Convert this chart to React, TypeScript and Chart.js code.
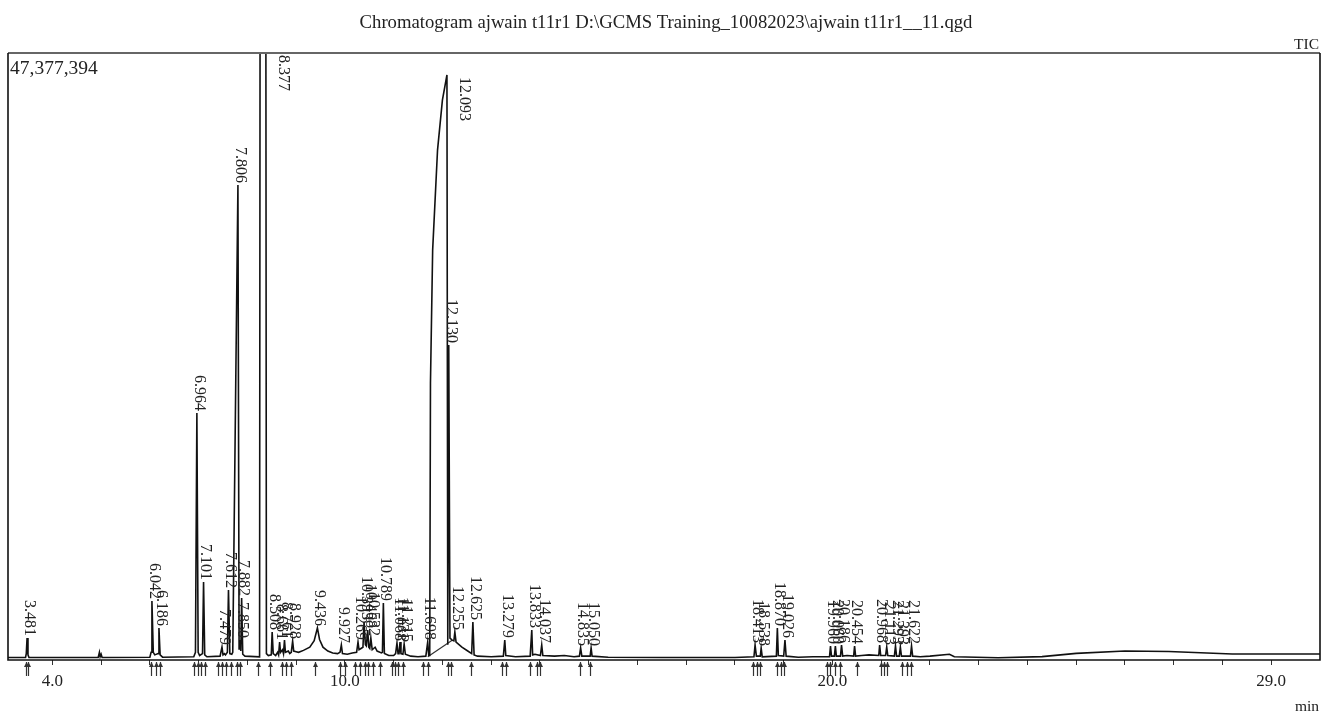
import React, { useEffect, useRef } from "react";
import { Chart, registerables } from "chart.js";

Chart.register(...registerables);

// ---------- data ----------
const chartTitle = "Chromatogram ajwain t11r1 D:\\GCMS Training_10082023\\ajwain t11r1__11.qgd";
const channelName = "TIC";
const xUnit = "min";
const xMin = 3.09;
const xMax = 30.0;
const yMax = 47377394;
const xTickLabels = [4.0, 10.0, 20.0, 29.0];

// trace points [retention time (min), intensity] by region
const traceA: [number, number][] = [
  [3.09, 0.2e6], [3.45, 0.2e6], [3.465, 0.5e6], [3.481, 1.72e6], [3.5, 0.4e6], [3.52, 0.2e6],
  [4.94, 0.2e6], [4.965, 0.6e6], [4.98, 0.25e6], [5.0, 0.45e6], [5.02, 0.2e6],
  [6.0, 0.22e6], [6.025, 0.6e6], [6.042, 4.6e6], [6.07, 0.6e6], [6.1, 0.4e6], [6.17, 0.5e6],
  [6.186, 2.5e6], [6.21, 0.4e6], [6.26, 0.22e6],
  [6.9, 0.25e6], [6.935, 0.6e6], [6.964, 19.28e6], [6.99, 0.6e6], [7.02, 0.35e6],
];
const traceB: [number, number][] = [
  [7.08, 0.5e6], [7.101, 6.09e6], [7.125, 0.4e6], [7.17, 0.25e6],
  [7.44, 0.3e6], [7.479, 1.01e6], [7.5, 0.4e6], [7.53, 0.5e6], [7.55, 0.4e6], [7.59, 0.6e6],
  [7.612, 5.46e6], [7.64, 0.5e6], [7.68, 0.45e6], [7.7, 0.6e6], [7.806, 37.08e6], [7.83, 0.8e6],
  [7.85, 1.56e6], [7.865, 0.7e6], [7.882, 4.84e6], [7.905, 0.45e6], [7.95, 0.3e6],
  [8.25, 0.25e6], [8.262, 60e6], [8.377, 60e6], [8.39, 0.5e6], [8.43, 0.35e6], [8.49, 0.4e6],
  [8.508, 2.19e6], [8.53, 0.5e6], [8.58, 0.35e6], [8.62, 0.6e6], [8.64, 0.4e6], [8.661, 1.4e6],
  [8.68, 0.6e6], [8.72, 0.8e6], [8.74, 0.5e6], [8.761, 1.56e6], [8.78, 0.6e6], [8.84, 0.7e6],
  [8.87, 0.5e6], [8.9, 0.6e6], [8.928, 1.48e6], [8.95, 0.7e6], [9.0, 0.65e6],
];
const traceC: [number, number][] = [
  [9.05, 0.6e6], [9.15, 0.75e6], [9.28, 1.0e6], [9.37, 1.5e6], [9.436, 2.5e6], [9.48, 1.6e6],
  [9.55, 1.0e6], [9.65, 0.7e6], [9.75, 0.55e6], [9.85, 0.5e6], [9.9, 0.6e6], [9.927, 1.17e6],
  [9.95, 0.5e6], [10.05, 0.45e6], [10.15, 0.55e6], [10.24, 0.6e6], [10.269, 1.4e6], [10.29, 0.8e6],
  [10.33, 0.9e6], [10.37, 1.0e6], [10.393, 2.97e6], [10.42, 1.2e6], [10.44, 1.1e6], [10.468, 2.34e6],
  [10.49, 1.0e6], [10.51, 0.9e6], [10.532, 1.72e6], [10.56, 0.8e6], [10.62, 1.0e6], [10.66, 0.7e6],
  [10.75, 0.55e6], [10.77, 0.6e6], [10.789, 4.45e6], [10.81, 0.5e6], [10.9, 0.35e6], [11.0, 0.35e6],
  [11.04, 0.5e6], [11.068, 1.33e6], [11.09, 0.5e6], [11.11, 0.5e6], [11.131, 1.4e6], [11.15, 0.5e6],
  [11.19, 0.45e6], [11.215, 1.25e6], [11.24, 0.45e6], [11.35, 0.3e6], [11.5, 0.25e6], [11.66, 0.3e6],
  [11.698, 1.4e6], [11.72, 0.35e6], [11.74, 0.35e6], [11.755, 21.6e6], [11.8, 32.0e6],
  [11.9, 39.8e6], [12.0, 43.7e6],
];
const traceD: [number, number][] = [
  [12.093, 45.66e6], [12.11, 1.2e6], [12.13, 24.59e6], [12.155, 1.7e6], [12.2, 1.55e6],
  [12.235, 1.5e6], [12.255, 2.19e6], [12.28, 1.4e6], [12.4, 1.0e6], [12.52, 0.7e6], [12.6, 0.5e6],
  [12.625, 2.97e6], [12.65, 0.4e6], [12.72, 0.3e6], [13.0, 0.25e6], [13.25, 0.3e6], [13.279, 1.56e6],
  [13.3, 0.35e6], [13.5, 0.25e6], [13.8, 0.3e6], [13.833, 2.34e6], [13.85, 0.4e6], [13.9, 0.45e6],
  [14.01, 0.35e6], [14.037, 1.17e6], [14.06, 0.35e6], [14.3, 0.3e6], [14.5, 0.35e6], [14.7, 0.25e6],
  [14.81, 0.3e6], [14.835, 0.94e6], [14.86, 0.3e6], [15.03, 0.3e6], [15.05, 0.94e6], [15.07, 0.3e6],
  [15.4, 0.22e6],
];
const traceE: [number, number][] = [
  [16.5, 0.2e6], [18.0, 0.2e6], [18.39, 0.25e6], [18.413, 1.17e6], [18.44, 0.3e6], [18.52, 0.3e6],
  [18.538, 0.94e6], [18.56, 0.25e6], [18.85, 0.3e6], [18.87, 2.5e6], [18.89, 0.35e6], [19.0, 0.3e6],
  [19.026, 1.56e6], [19.05, 0.3e6], [19.3, 0.22e6], [19.6, 0.25e6], [19.94, 0.25e6], [19.96, 1.09e6],
  [19.98, 0.3e6], [20.04, 0.3e6], [20.06, 1.09e6], [20.08, 0.3e6], [20.165, 0.3e6], [20.186, 1.17e6],
  [20.21, 0.3e6], [20.3, 0.35e6], [20.435, 0.3e6], [20.454, 1.09e6], [20.475, 0.3e6], [20.6, 0.35e6],
  [20.75, 0.4e6], [20.95, 0.35e6], [20.968, 1.17e6], [20.99, 0.35e6], [21.09, 0.35e6], [21.113, 1.01e6],
  [21.135, 0.35e6], [21.27, 0.3e6], [21.293, 1.09e6], [21.315, 0.3e6], [21.37, 0.3e6], [21.393, 1.01e6],
  [21.415, 0.3e6], [21.6, 0.3e6], [21.622, 1.09e6], [21.645, 0.3e6], [21.8, 0.25e6], [22.0, 0.3e6],
  [22.4, 0.45e6], [22.5, 0.25e6], [23.4, 0.18e6], [24.3, 0.26e6], [25.0, 0.52e6], [26.0, 0.7e6],
  [26.9, 0.66e6], [28.2, 0.47e6], [30.0, 0.47e6],
];
// integration drift line under the main peak
const driftLine: [number, number][] = [[11.7, 0.25e6], [12.2, 1.55e6]];

// labelled peak retention times
const peakTimes = [
  3.481, 6.042, 6.186, 6.964, 7.101, 7.479, 7.612, 7.806, 7.85, 7.882, 8.377, 8.508, 8.661, 8.761,
  8.928, 9.436, 9.927, 10.269, 10.393, 10.468, 10.532, 10.789, 11.068, 11.131, 11.215, 11.698,
  12.093, 12.13, 12.255, 12.625, 13.279, 13.833, 14.037, 14.835, 15.05, 18.413, 18.538, 18.87,
  19.026, 19.96, 20.06, 20.186, 20.454, 20.968, 21.113, 21.293, 21.393, 21.622,
];
// peak start / end markers (min)
const markerTimes = [
  3.46, 3.51, 6.02, 6.13, 6.21, 6.91, 6.98, 7.05, 7.14, 7.4, 7.47, 7.56, 7.66, 7.78, 7.85, 8.22,
  8.46, 8.7, 8.79, 8.89, 9.38, 9.9, 10.0, 10.2, 10.31, 10.41, 10.47, 10.58, 10.72, 10.96, 11.03,
  11.09, 11.19, 11.6, 11.7, 12.11, 12.18, 12.58, 13.22, 13.3, 13.8, 13.94, 14.0, 14.82, 15.03,
  18.37, 18.46, 18.51, 18.86, 18.94, 19.0, 19.88, 19.94, 20.05, 20.15, 20.5, 20.99, 21.05, 21.11,
  21.42, 21.52, 21.62,
];

const SERIF = "'Liberation Serif', 'DejaVu Serif', serif";
const INK = "#111";

const trace = [...traceA, ...traceB, ...traceC, ...traceD, ...traceE];

const decorPlugin = {
  id: "chromDecor",
  afterDatasetsDraw(chart: any) {
    const { ctx, chartArea, scales } = chart;
    const xs = scales.x;
    const ys = scales.y;
    const lookup = new Map<number, number>();
    trace.forEach(([t, v]) => lookup.set(t, v));

    // frame
    ctx.save();
    ctx.strokeStyle = "#666";
    ctx.lineWidth = 2;
    ctx.beginPath();
    ctx.moveTo(chartArea.left, chartArea.top);
    ctx.lineTo(chartArea.right, chartArea.top);
    ctx.stroke();
    ctx.strokeStyle = INK;
    ctx.lineWidth = 1.6;
    ctx.beginPath();
    ctx.moveTo(chartArea.left, chartArea.top);
    ctx.lineTo(chartArea.left, chartArea.bottom);
    ctx.lineTo(chartArea.right, chartArea.bottom);
    ctx.lineTo(chartArea.right, chartArea.top);
    ctx.stroke();

    // peak markers
    ctx.strokeStyle = "#333";
    ctx.fillStyle = "#333";
    ctx.lineWidth = 1.2;
    markerTimes.forEach((t) => {
      const px = Math.round(xs.getPixelForValue(t)) + 0.5;
      const b = chartArea.bottom;
      ctx.beginPath();
      ctx.moveTo(px, b + 2);
      ctx.lineTo(px, b + 16);
      ctx.stroke();
      ctx.beginPath();
      ctx.moveTo(px, b + 2);
      ctx.lineTo(px - 2.5, b + 7);
      ctx.lineTo(px + 2.5, b + 7);
      ctx.closePath();
      ctx.fill();
    });

    // peak labels (rotated clockwise)
    ctx.fillStyle = "#222";
    ctx.font = `16px ${SERIF}`;
    ctx.textBaseline = "middle";
    peakTimes.forEach((t) => {
      const v = lookup.get(t) ?? 0;
      const label = t.toFixed(3);
      const w = ctx.measureText(label).width;
      const px = xs.getPixelForValue(t);
      const py = ys.getPixelForValue(v);
      ctx.save();
      if (py - 2 - w < chartArea.top + 2) {
        const startY = Math.max(py, chartArea.top) + 2;
        ctx.translate(px + 17, startY);
        ctx.rotate(Math.PI / 2);
        ctx.textAlign = "left";
      } else {
        ctx.translate(px + 2, py - 2);
        ctx.rotate(Math.PI / 2);
        ctx.textAlign = "right";
      }
      ctx.fillText(label, 0, 0);
      ctx.restore();
    });
    ctx.restore();
  },
  afterDraw(chart: any) {
    const { ctx, chartArea } = chart;
    ctx.save();
    ctx.fillStyle = "#222";
    ctx.textBaseline = "alphabetic";
    ctx.font = `18.7px ${SERIF}`;
    ctx.textAlign = "center";
    ctx.fillText(chartTitle, 666, 28);
    ctx.font = `15.5px ${SERIF}`;
    ctx.textAlign = "right";
    ctx.fillText(channelName, chartArea.right - 1, chartArea.top - 4);
    ctx.fillText(xUnit, chartArea.right - 1, 711);
    ctx.font = `19.5px ${SERIF}`;
    ctx.textAlign = "left";
    ctx.fillText(yMax.toLocaleString("en-US"), chartArea.left + 2, chartArea.top + 21);
    ctx.restore();
  },
};

export default function App() {
  const ref = useRef<HTMLCanvasElement | null>(null);
  useEffect(() => {
    if (!ref.current) return;
    const chart = new Chart(ref.current, {
      type: "line",
      data: {
        datasets: [
          {
            data: trace.map(([x, y]) => ({ x, y })),
            borderColor: INK,
            borderWidth: 1.6,
            pointRadius: 0,
            tension: 0,
            fill: false,
          },
          {
            data: driftLine.map(([x, y]) => ({ x, y })),
            borderColor: "#333",
            borderWidth: 1.2,
            pointRadius: 0,
            tension: 0,
            fill: false,
          },
        ],
      },
      options: {
        animation: false,
        responsive: false,
        devicePixelRatio: 1,
        layout: { padding: { left: 8, right: 15, top: 53, bottom: 0 } },
        plugins: { legend: { display: false }, tooltip: { enabled: false }, title: { display: false } },
        scales: {
          x: {
            type: "linear",
            min: xMin,
            max: xMax,
            afterBuildTicks: (s: any) => {
              const ticks = [];
              for (let v = Math.ceil(xMin); v < xMax; v++) ticks.push({ value: v });
              s.ticks = ticks;
            },
            afterFit: (s: any) => {
              s.height = 55;
            },
            grid: { display: true, drawOnChartArea: false, drawTicks: true, tickLength: 5, color: "#333", lineWidth: 1 },
            border: { display: false },
            ticks: {
              autoSkip: false,
              maxRotation: 0,
              padding: 6,
              color: "#222",
              font: { family: SERIF, size: 17 },
              callback: (v: any) => (xTickLabels.includes(Number(v)) ? Number(v).toFixed(1) : ""),
            },
          },
          y: { display: false, min: 0, max: yMax },
        },
      },
      plugins: [decorPlugin],
    });
    return () => chart.destroy();
  }, []);
  return (
    <div style={{ position: "absolute", left: 0, top: 0, width: 1335, height: 715, background: "#fff" }}>
      <canvas ref={ref} width={1335} height={715} />
    </div>
  );
}
